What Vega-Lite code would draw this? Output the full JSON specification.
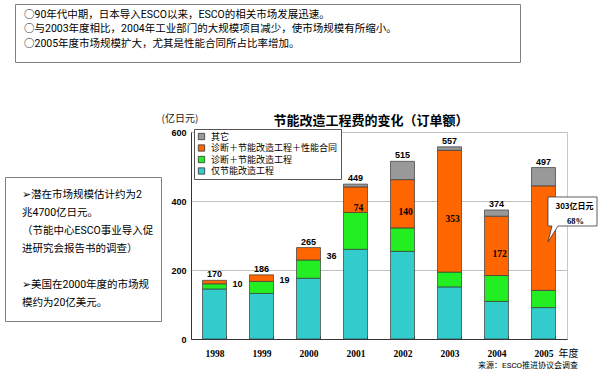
{
  "$schema": "https://vega.github.io/schema/vega-lite/v6.json",
  "padding": {"left": 4, "top": 3, "right": 0, "bottom": 0},
  "background": "white",
  "config": {"font": "Noto Sans CJK SC"},
  "title": {"text": "来源：ESCO推进协议会调查", "orient": "bottom", "anchor": "end", "fontSize": 8, "fontWeight": "normal", "font": "Roboto, Noto Sans CJK SC", "color": "#000", "dx": -21, "offset": 3},
  "spacing": 49,
  "vconcat": [
    {
      "spacing": 0,
      "hconcat": [
        {"width": 9, "height": 58, "view": {"stroke": null}, "data": {"values": []}, "mark": "point", "encoding": {}},
        {
          "width": 505, "height": 58,
          "view": {"stroke": "#808080"},
          "data": {"values": [
            {"n": 1, "t": "○90年代中期，日本导入ESCO以来，ESCO的相关市场发展迅速。"},
            {"n": 2, "t": "○与2003年度相比，2004年工业部门的大规模项目减少，使市场规模有所缩小。"},
            {"n": 3, "t": "○2005年度市场规模扩大，尤其是性能合同所占比率增加。"}
          ]},
          "mark": {"type": "text", "align": "left", "baseline": "middle", "fontSize": 10.5, "font": "Roboto, Noto Sans CJK SC", "x": 9, "color": "#000"},
          "encoding": {
            "y": {"field": "n", "type": "ordinal", "axis": null, "scale": {"type": "point", "domain": [1, 2, 3], "padding": 1.2308, "align": 0.375}},
            "text": {"field": "t", "type": "nominal"}
          }
        }
      ]
    },
    {
      "spacing": -2,
      "hconcat": [
        {
          "spacing": 0,
          "vconcat": [
            {"width": 156, "height": 44, "view": {"stroke": null}, "data": {"values": []}, "mark": "point", "encoding": {}},
            {
              "width": 156, "height": 144,
              "view": {"stroke": "#808080"},
              "data": {"values": [
                {"n": 1, "t": "➢潜在市场规模估计约为2"},
                {"n": 2, "t": "兆4700亿日元。"},
                {"n": 3, "t": "（节能中心ESCO事业导入促"},
                {"n": 4, "t": "进研究会报告书的调查）"},
                {"n": 6, "t": "➢美国在2000年度的市场规"},
                {"n": 7, "t": "模约为20亿美元。"}
              ]},
              "mark": {"type": "text", "align": "left", "baseline": "middle", "fontSize": 10.5, "font": "Roboto, Noto Sans CJK SC", "x": 17, "color": "#000"},
              "encoding": {
                "y": {"field": "n", "type": "ordinal", "axis": null, "scale": {"type": "point", "domain": [1, 2, 3, 4, 5, 6, 7], "padding": 2.76, "align": 0.4928}},
                "text": {"field": "t", "type": "nominal"}
              }
            }
          ]
        },
        {
          "width": 376, "height": 207,
          "view": {"stroke": "#c8c8c8"},
          "title": {"text": "节能改造工程费的变化（订单额）", "fontSize": 13, "fontWeight": "bold", "anchor": "middle", "dx": -8, "offset": -15, "color": "#000", "font": "Noto Sans CJK SC"},
          "data": {"values": [
            {"year": "1998", "type": "仅节能改造工程", "k": 1, "value": 145},
            {"year": "1998", "type": "诊断＋节能改造工程", "k": 2, "value": 15},
            {"year": "1998", "type": "诊断＋节能改造工程＋性能合同", "k": 3, "value": 10},
            {"year": "1999", "type": "仅节能改造工程", "k": 1, "value": 132},
            {"year": "1999", "type": "诊断＋节能改造工程", "k": 2, "value": 35},
            {"year": "1999", "type": "诊断＋节能改造工程＋性能合同", "k": 3, "value": 19},
            {"year": "2000", "type": "仅节能改造工程", "k": 1, "value": 176},
            {"year": "2000", "type": "诊断＋节能改造工程", "k": 2, "value": 53},
            {"year": "2000", "type": "诊断＋节能改造工程＋性能合同", "k": 3, "value": 36},
            {"year": "2001", "type": "仅节能改造工程", "k": 1, "value": 260},
            {"year": "2001", "type": "诊断＋节能改造工程", "k": 2, "value": 107},
            {"year": "2001", "type": "诊断＋节能改造工程＋性能合同", "k": 3, "value": 74},
            {"year": "2001", "type": "其它", "k": 4, "value": 8},
            {"year": "2002", "type": "仅节能改造工程", "k": 1, "value": 254},
            {"year": "2002", "type": "诊断＋节能改造工程", "k": 2, "value": 68},
            {"year": "2002", "type": "诊断＋节能改造工程＋性能合同", "k": 3, "value": 140},
            {"year": "2002", "type": "其它", "k": 4, "value": 53},
            {"year": "2003", "type": "仅节能改造工程", "k": 1, "value": 151},
            {"year": "2003", "type": "诊断＋节能改造工程", "k": 2, "value": 43},
            {"year": "2003", "type": "诊断＋节能改造工程＋性能合同", "k": 3, "value": 353},
            {"year": "2003", "type": "其它", "k": 4, "value": 10},
            {"year": "2004", "type": "仅节能改造工程", "k": 1, "value": 109},
            {"year": "2004", "type": "诊断＋节能改造工程", "k": 2, "value": 75},
            {"year": "2004", "type": "诊断＋节能改造工程＋性能合同", "k": 3, "value": 172},
            {"year": "2004", "type": "其它", "k": 4, "value": 18},
            {"year": "2005", "type": "仅节能改造工程", "k": 1, "value": 91},
            {"year": "2005", "type": "诊断＋节能改造工程", "k": 2, "value": 50},
            {"year": "2005", "type": "诊断＋节能改造工程＋性能合同", "k": 3, "value": 303, "note": "303亿日元", "share": "68%"},
            {"year": "2005", "type": "其它", "k": 4, "value": 53}
          ]},
          "encoding": {
            "x": {
              "field": "year", "type": "nominal",
              "scale": {"paddingInner": 0.49, "paddingOuter": 0.245},
              "axis": {"title": "年度", "titleAngle": 0, "titleX": 377, "titleY": 14, "titleAlign": "center", "titleBaseline": "middle", "titleFontSize": 10, "titleFontWeight": "normal", "titleFont": "Roboto, Noto Sans CJK SC", "titleColor": "#000", "labelAngle": 0, "labelFont": "Liberation Serif", "labelFontWeight": "bold", "labelFontSize": 9.5, "labelColor": "#000", "labelPadding": 12, "tickBand": "extent", "tickSize": -3, "tickColor": "#333", "domainColor": "#333", "grid": false}
            }
          },
          "layer": [
            {
              "mark": {"type": "bar", "stroke": "#3a3a3a", "strokeWidth": 0.7},
              "encoding": {
                "y": {"field": "value", "type": "quantitative", "stack": "zero", "scale": {"domain": [0, 600]},
                  "axis": {"title": "(亿日元)", "titleAngle": 0, "titleX": -30, "titleY": -14, "titleAlign": "left", "titleBaseline": "middle", "titleFontSize": 10, "titleFontWeight": "normal", "titleColor": "#222", "values": [0, 100, 200, 300, 400, 500, 600], "labelFont": "Liberation Sans", "labelFontWeight": "bold", "labelFontSize": 9, "labelColor": "#000", "labelPadding": 5, "ticks": false, "domainColor": "#333", "gridColor": "#c0c0c0"}},
                "color": {"field": "type", "type": "nominal",
                  "scale": {"domain": ["其它", "诊断＋节能改造工程＋性能合同", "诊断＋节能改造工程", "仅节能改造工程"], "range": ["#999999", "#ff6600", "#22ee22", "#33cccc"]},
                  "legend": {"orient": "none", "legendX": 189, "legendY": 125, "title": null, "fillColor": "white", "strokeColor": "#555", "padding": 3, "symbolType": "square", "symbolSize": 40, "symbolStrokeColor": "#333", "symbolStrokeWidth": 0.8, "labelFontSize": 9, "labelFont": "Noto Sans CJK SC", "rowPadding": 0.5, "labelOffset": 5, "labelColor": "#000"}},
                "order": {"field": "k", "type": "quantitative"}
              }
            },
            {
              "mark": {"type": "text", "baseline": "bottom", "dy": -1, "fontSize": 9, "fontWeight": "bold", "font": "Liberation Sans", "color": "#000"},
              "encoding": {
                "y": {"aggregate": "sum", "field": "value", "type": "quantitative"},
                "text": {"aggregate": "sum", "field": "value", "type": "quantitative"}
              }
            },
            {
              "mark": {"type": "text", "dx": 23, "dy": 2, "baseline": "middle", "fontSize": 9, "fontWeight": "bold", "font": "Liberation Sans", "color": "#000"},
              "encoding": {
                "y": {"field": "value", "type": "quantitative", "stack": "zero", "bandPosition": 0.5},
                "detail": {"field": "type"},
                "order": {"field": "k", "type": "quantitative"},
                "text": {"condition": {"test": "datum.k === 3 && datum.year < '2001'", "field": "value", "type": "quantitative"}, "value": ""}
              }
            },
            {
              "mark": {"type": "text", "dx": 3, "dy": 8, "baseline": "middle", "fontSize": 9.5, "fontWeight": "bold", "font": "Liberation Serif", "color": "#000"},
              "encoding": {
                "y": {"field": "value", "type": "quantitative", "stack": "zero", "bandPosition": 0.5},
                "detail": {"field": "type"},
                "order": {"field": "k", "type": "quantitative"},
                "text": {"condition": {"test": "datum.k === 3 && datum.year > '2000' && datum.year < '2005'", "field": "value", "type": "quantitative"}, "value": ""}
              }
            },
            {
              "mark": {"type": "point", "shape": "M0.083,-0.761L0.991,-0.761L0.991,-0.224L0.269,-0.224L0.083,0.072L0.157,-0.224L0.083,-0.224Z", "filled": true, "fill": "white", "stroke": "#333", "strokeWidth": 0.8, "opacity": 1},
              "encoding": {
                "y": {"field": "value", "type": "quantitative", "stack": "zero", "bandPosition": 0.5},
                "detail": {"field": "type"},
                "order": {"field": "k", "type": "quantitative"},
                "size": {"condition": {"test": "datum.k === 3 && datum.year === '2005'", "value": 11664}, "value": 0}
              }
            },
            {
              "mark": {"type": "text", "dx": 31, "dy": -31, "baseline": "middle", "fontSize": 8, "fontWeight": "bold", "font": "Noto Sans CJK SC", "color": "#000"},
              "encoding": {
                "y": {"field": "value", "type": "quantitative", "stack": "zero", "bandPosition": 0.5},
                "detail": {"field": "type"},
                "order": {"field": "k", "type": "quantitative"},
                "text": {"condition": {"test": "datum.k === 3 && datum.year === '2005'", "field": "note", "type": "nominal"}, "value": ""}
              }
            },
            {
              "mark": {"type": "text", "dx": 32, "dy": -17, "baseline": "middle", "fontSize": 8.5, "fontWeight": "bold", "font": "Liberation Serif", "color": "#000"},
              "encoding": {
                "y": {"field": "value", "type": "quantitative", "stack": "zero", "bandPosition": 0.5},
                "detail": {"field": "type"},
                "order": {"field": "k", "type": "quantitative"},
                "text": {"condition": {"test": "datum.k === 3 && datum.year === '2005'", "field": "share", "type": "nominal"}, "value": ""}
              }
            }
          ]
        }
      ]
    }
  ]
}
